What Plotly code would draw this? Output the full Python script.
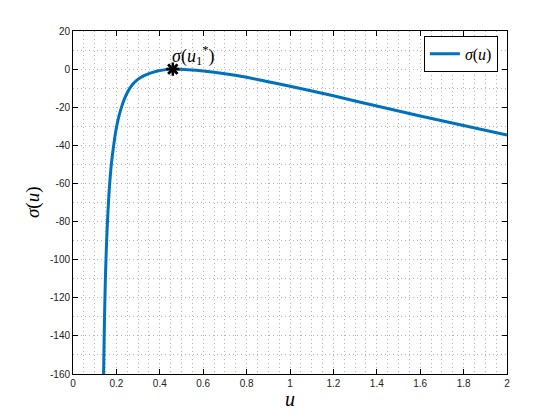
import plotly.graph_objects as go

# Values
u_vals = [0.141, 0.144, 0.147, 0.150, 0.154, 0.158, 0.162, 0.166, 0.170, 0.175,
          0.180, 0.188, 0.195, 0.203, 0.212, 0.224, 0.237, 0.250, 0.262, 0.276,
          0.292, 0.310, 0.330, 0.350, 0.372, 0.395, 0.420, 0.440, 0.460, 0.490,
          0.530, 0.600, 0.700, 0.800, 0.900, 1.000, 1.200, 1.400, 1.600, 1.800,
          2.000]
sigma_vals = [-160, -138, -121, -107, -93, -82, -73, -65, -58.5, -52,
              -46.5, -39.5, -34, -29, -24.5, -19.8, -15.6, -12.4, -10, -7.8,
              -6.0, -4.5, -3.3, -2.4, -1.6, -0.9, -0.4, -0.12, 0.0, -0.08,
              -0.33, -1.0, -2.4, -4.3, -6.6, -9.0, -14.0, -19.4, -24.6, -29.6,
              -34.6]

u_star = [0.46]
sigma_star = [0.0]

x_ticks = [0, 0.2, 0.4, 0.6, 0.8, 1, 1.2, 1.4, 1.6, 1.8, 2]
x_tick_labels = ["0", "0.2", "0.4", "0.6", "0.8", "1", "1.2", "1.4", "1.6", "1.8", "2"]
y_ticks = [20, 0, -20, -40, -60, -80, -100, -120, -140, -160]
y_tick_labels = ["20", "0", "-20", "-40", "-60", "-80", "-100", "-120", "-140", "-160"]

serif = "Liberation Serif, DejaVu Serif, serif"
sans = "Liberation Sans, Arial, sans-serif"
grid_col = "#b4b4b4"
grid_dash = "1px,3px"

fig = go.Figure()
fig.add_trace(go.Scatter(
    x=u_vals, y=sigma_vals, mode="lines",
    line=dict(color="#0072BD", width=3, shape="spline", smoothing=0.5),
    name="<i>σ</i>(<i>u</i>)", showlegend=True,
))
fig.add_trace(go.Scatter(
    x=u_star, y=sigma_star, mode="markers",
    marker=dict(symbol="asterisk-open", size=11, color="black",
                line=dict(color="black", width=2.5)),
    showlegend=False,
))
fig.add_trace(go.Scatter(
    x=u_star, y=sigma_star, mode="markers",
    marker=dict(symbol="x-thin-open", size=9, color="black",
                line=dict(color="black", width=2.5)),
    showlegend=False,
))

axis_common = dict(
    showline=True, linecolor="black", linewidth=1, mirror="ticks",
    ticks="inside", ticklen=5, tickcolor="black",
    showgrid=True, gridcolor=grid_col, griddash=grid_dash, gridwidth=1,
    zeroline=False,
    tickfont=dict(family=sans, size=10, color="#222222"),
)

fig.update_xaxes(range=[0, 2], tickvals=x_ticks, ticktext=x_tick_labels,
                 minor=dict(dtick=0.05, tick0=0, showgrid=True, gridcolor=grid_col,
                            griddash=grid_dash, gridwidth=1, ticks=""),
                 **axis_common)
fig.update_yaxes(range=[-160, 20], tickvals=y_ticks, ticktext=y_tick_labels,
                 minor=dict(dtick=10, tick0=0, showgrid=True, gridcolor=grid_col,
                            griddash=grid_dash, gridwidth=1, ticks=""),
                 **axis_common)

fig.add_annotation(x=u_star[0], y=sigma_star[0], xref="x", yref="y",
                   text="<i>σ</i>(<i>u</i><sub>1</sub><sup>*</sup>)",
                   showarrow=False, xanchor="left", yanchor="bottom",
                   xshift=-3, yshift=-1,
                   font=dict(family=serif, size=18, color="black"))

fig.add_annotation(x=0.5, y=-0.073, xref="paper", yref="paper",
                   text="<i>u</i>", showarrow=False, xanchor="center", yanchor="middle",
                   font=dict(family=serif, size=20, color="black"))
fig.add_annotation(x=-0.0933, y=0.5, xref="paper", yref="paper",
                   text="<i>σ</i>(<i>u</i>)", showarrow=False, textangle=-90,
                   xanchor="center", yanchor="middle",
                   font=dict(family=serif, size=19, color="black"))

fig.update_layout(
    width=552, height=412,
    margin=dict(l=65, r=53, t=23, b=46),
    paper_bgcolor="white", plot_bgcolor="white",
    showlegend=True,
    legend=dict(x=0.979, y=0.986, xanchor="right", yanchor="top",
                bgcolor="white", bordercolor="black", borderwidth=1,
                font=dict(family=serif, size=16, color="black"),
                itemwidth=30, tracegroupgap=0),
)

fig.write_html("out.html")
